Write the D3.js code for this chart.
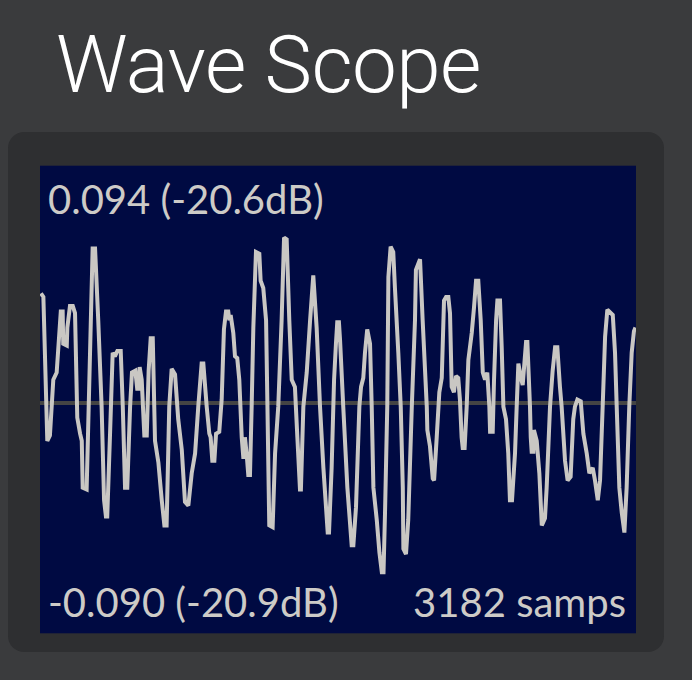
<!DOCTYPE html>
<html>
<head>
<meta charset="utf-8">
<script src="https://cdn.jsdelivr.net/npm/d3@7"></script>
<style>
  html, body { margin: 0; padding: 0; background: #3a3b3d; }
  svg { display: block; }
</style>
</head>
<body>
<svg id="chart" width="692" height="680"></svg>
<script>
// ---- data ----
const title = "Wave Scope";
const totalSamples = 3182;
const peakLabels = ["0.094 (-20.6dB)", "-0.090 (-20.9dB)"];
const countLabel = "3182 samps";
const sampleIndex = [5,18,39,53,71,89,111,121,124,143,146,160,175,187,199,214,223,228,249,281,294,311,329,342,352,359,374,388,400,413,431,442,454,466,481,491,509,519,527,532,543,557,570,580,591,602,614,632,650,664,676,690,703,721,738,757,774,792,810,828,845,863,872,890,904,911,920,931,940,957,970,982,993,1005,1011,1018,1032,1041,1053,1064,1077,1086,1094,1103,1112,1121,1130,1139,1153,1171,1178,1192,1207,1214,1224,1242,1255,1272,1290,1303,1317,1331,1344,1361,1374,1388,1393,1406,1424,1442,1459,1477,1495,1513,1536,1543,1557,1570,1580,1587,1596,1602,1619,1641,1664,1673,1687,1705,1714,1726,1735,1747,1762,1771,1780,1798,1812,1825,1834,1842,1854,1860,1872,1886,1895,1913,1926,1937,1940,1954,1966,1985,2002,2007,2029,2043,2065,2068,2082,2097,2104,2118,2132,2145,2157,2168,2180,2189,2198,2210,2221,2233,2242,2251,2257,2267,2278,2287,2305,2317,2328,2340,2353,2364,2376,2388,2399,2403,2417,2424,2435,2442,2456,2465,2474,2488,2500,2509,2520,2536,2545,2554,2566,2577,2595,2602,2616,2620,2625,2634,2637,2652,2666,2679,2696,2705,2723,2737,2750,2762,2776,2785,2803,2817,2833,2847,2856,2869,2887,2901,2919,2933,2951,2963,2978,2990,3004,3017,3029,3058,3070,3079,3093,3106,3120,3132,3146,3159,3171,3179];
const amplitude = [0.061,0.059,-0.021,-0.018,0.013,0.017,0.051,0.051,0.033,0.032,0.042,0.054,0.054,0.050,-0.008,-0.017,-0.021,-0.047,-0.048,0.086,0.086,0.046,-0.002,-0.054,-0.063,-0.063,-0.017,0.028,0.026,0.029,0.029,-0.002,-0.047,-0.047,-0.002,0.017,0.018,0.008,0.008,0.020,0.013,-0.018,-0.018,0.018,0.036,0.036,-0.021,-0.033,-0.054,-0.068,-0.068,-0.002,0.019,0.016,-0.009,-0.026,-0.055,-0.057,-0.039,-0.028,-0.002,0.022,0.022,-0.002,-0.017,-0.019,-0.032,-0.032,-0.017,-0.016,0.002,0.041,0.051,0.051,0.046,0.049,0.039,0.026,0.025,0.013,-0.019,-0.031,-0.019,-0.028,-0.040,-0.040,-0.002,0.042,0.084,0.083,0.068,0.064,0.046,0.000,-0.068,-0.069,-0.028,-0.002,0.046,0.092,0.091,0.046,0.013,0.009,-0.019,-0.048,-0.048,-0.002,0.017,0.046,0.071,0.042,-0.002,-0.036,-0.072,-0.072,-0.036,0.013,0.033,0.045,0.045,0.035,-0.002,-0.047,-0.079,-0.079,-0.058,-0.002,0.009,0.014,0.028,0.041,0.033,-0.002,-0.047,-0.065,-0.083,-0.094,-0.094,-0.061,-0.002,0.070,0.087,0.084,0.064,0.028,-0.002,-0.047,-0.081,-0.084,-0.065,-0.002,0.046,0.074,0.080,0.046,-0.002,-0.015,-0.024,-0.042,-0.043,-0.019,0.006,0.014,0.057,0.059,0.059,0.050,0.009,0.006,0.015,0.014,0.002,-0.019,-0.025,-0.025,-0.002,0.024,0.039,0.053,0.068,0.068,0.046,0.017,0.013,0.017,-0.002,-0.016,-0.016,0.013,0.046,0.057,0.057,0.031,-0.002,-0.009,-0.028,-0.054,-0.054,-0.028,-0.002,0.022,0.015,0.010,0.034,0.034,-0.002,-0.019,-0.027,-0.027,-0.015,-0.021,-0.039,-0.068,-0.064,-0.047,-0.002,0.018,0.031,0.031,0.009,-0.002,-0.032,-0.043,-0.041,-0.009,-0.002,0.002,0.001,-0.017,-0.028,-0.039,-0.036,-0.043,-0.054,-0.043,-0.002,0.037,0.052,0.049,0.028,-0.002,-0.047,-0.061,-0.072,-0.047,-0.002,0.028,0.040,0.042];
const ampDomain = [-0.128, 0.132];

// ---- layout ----
const svg = d3.select("#chart");
const card = {x: 8, y: 132, w: 656, h: 520, r: 16};
const plot = {left: 40, top: 165.7, right: 636, bottom: 633.3};

svg.append("rect").attr("x", 0).attr("y", 0).attr("width", 692).attr("height", 680).attr("fill", "#3a3b3d");

svg.append("text")
  .attr("x", 56).attr("y", 92)
  .attr("font-family", "Roboto, sans-serif")
  .attr("font-weight", 300)
  .attr("font-size", 80)
  .attr("letter-spacing", -0.6)
  .attr("fill", "#ffffff")
  .text(title);

svg.append("rect")
  .attr("x", card.x).attr("y", card.y).attr("width", card.w).attr("height", card.h)
  .attr("rx", card.r).attr("fill", "#2e2f31");

svg.append("rect")
  .attr("x", plot.left).attr("y", plot.top)
  .attr("width", plot.right - plot.left).attr("height", plot.bottom - plot.top)
  .attr("fill", "#000a42");

const x = d3.scaleLinear().domain([0, totalSamples]).range([plot.left, plot.right]);
const y = d3.scaleLinear().domain(ampDomain).range([plot.bottom, plot.top]);

svg.append("line")
  .attr("x1", plot.left).attr("x2", plot.right)
  .attr("y1", y(0)).attr("y2", y(0))
  .attr("stroke", "#444444").attr("stroke-width", 4);

const pts = sampleIndex.map((s, i) => [s, amplitude[i]]);
const line = d3.line().x(d => x(d[0])).y(d => y(d[1]));

svg.append("clipPath").attr("id", "clip").append("rect")
  .attr("x", plot.left).attr("y", plot.top)
  .attr("width", plot.right - plot.left).attr("height", plot.bottom - plot.top);

svg.append("path")
  .datum(pts)
  .attr("clip-path", "url(#clip)")
  .attr("d", line)
  .attr("fill", "none")
  .attr("stroke", "#c9c7c3")
  .attr("stroke-width", 4)
  .attr("stroke-linejoin", "miter")
  .attr("stroke-miterlimit", 2);

const lbl = (t, xx, yy, anchor) => svg.append("text")
  .attr("x", xx).attr("y", yy)
  .attr("text-anchor", anchor)
  .attr("font-family", "Lato, sans-serif")
  .attr("font-size", 40)
  .attr("fill", "#cdcbc7")
  .text(t);

lbl(peakLabels[0], plot.left + 8, 214, "start");
lbl(peakLabels[1], plot.left + 8, 616.5, "start");
lbl(countLabel, plot.right - 10, 616.5, "end");
</script>
</body>
</html>
